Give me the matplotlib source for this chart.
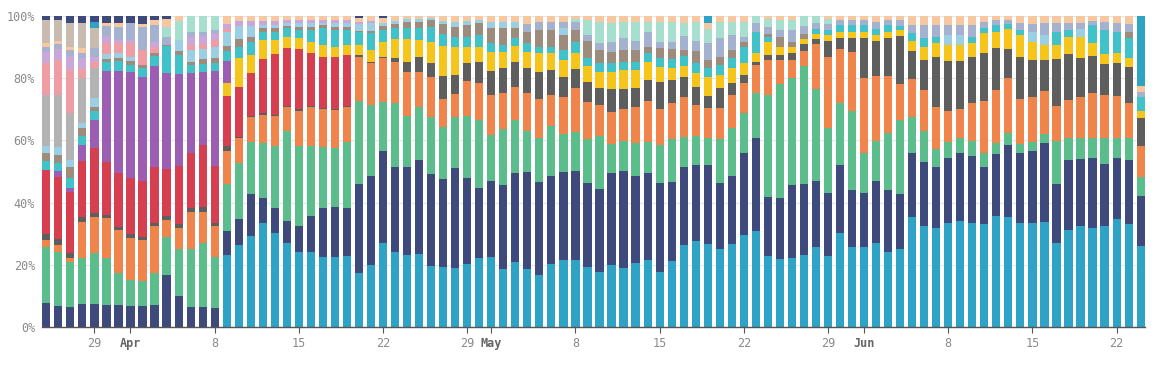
#
# 100% stacked daily bars, share per group (Mar 25 - Jun 24)
#

import numpy as np
import pandas as pd
from matplotlib import pyplot as plt

#
# Data (percent per day, bottom to top)
#

days = pd.date_range("2021-03-25", periods=92, freq="D")

cyan = [0] * 15 + [
	23.2, 26.4, 29.3, 33.3, 30.3, 27.1, 24, 24.2, 22.6, 22.6, 22.8, 17.5, 19.9, 27.1, 24,
	23.2, 23.5, 19.6, 19.1, 19.1, 20.3, 22.1, 22.6, 18.6, 20.8, 18.6, 16.7, 20.3, 21.5, 21.5,
	19.4, 17.8, 19.9, 18.9, 20.7, 21.5, 17.8, 21.3, 26.4, 27.8, 26.7, 25.1, 26.7, 29.6, 31,
	22.8, 21.8, 22.1, 23.2, 25.6, 22.8, 30.3, 25.6, 25.6, 27.1, 24.2, 24.8, 35.3, 32.5, 31.7,
	33.3, 34.2, 33.3, 33.1, 35.7, 35.5, 33.5, 33.3, 33.9, 26.9, 31.2, 32.5, 31.7, 32.5, 34.6,
	33, 26]

navy = [
	7.6, 6.9, 6.5, 7.4, 7.4, 7.1, 7.1, 6.8, 6.5, 7.1, 16.9, 10, 6.3, 6.5, 6,
	7.8, 8.2, 13.4, 8.3, 8.1, 7, 8.5, 11.5, 15.8, 15.9, 15.4, 29.2, 29, 29.6, 27.3,
	28.1, 30.2, 29.6, 28.4, 31.9, 27.5, 22.5, 24.4, 27.1, 28.8, 31.3, 30, 28.4, 28.4, 28.8,
	26.8, 26.5, 29.5, 31.4, 27.9, 27.9, 28.6, 25.4, 25.4, 24.3, 25.6, 21.3, 22, 26.2, 29.7,
	18.9, 19.6, 23.6, 22.8, 21.1, 20.2, 21.8, 18.4, 17.6, 19.9, 19.8, 17.6, 20.8, 20.7, 19.9,
	20.9, 21.9, 21.7, 18.2, 19.9, 23, 22.3, 23.4, 25.4, 19.1, 22.5, 21.5, 22.7, 19.9, 19.8,
	20.7, 16.1]

green = [
	18, 17.3, 14.3, 14.7, 16.3, 15.3, 10.4, 8.5, 8.1, 10.2, 12.4, 15, 18.7, 20.4, 16.6,
	15.2, 18.2, 16.9, 17.7, 19.8, 29, 25.7, 22.5, 19.4, 18.9, 21.4, 26.8, 22.7, 15.8, 20.8,
	16.5, 17.1, 18.2, 16.7, 16.4, 20, 22, 14.7, 17.9, 17, 13.2, 14, 15.9, 12.2, 12.5,
	14.1, 17.1, 9.6, 9.6, 10.7, 10.2, 12.1, 13.6, 9.6, 9.3, 8.7, 13.9, 15.2, 12.9, 14.4,
	32.9, 36.7, 34.3, 37.9, 29.5, 21.2, 20, 25.6, 12.8, 12.9, 18.5, 23.6, 11.5, 9.9, 5.5,
	5.4, 4.8, 4.8, 4.5, 3.7, 3.8, 3, 2.9, 2.8, 13.9, 7, 6.7, 6.3, 8.3, 6.3,
	7, 6]

orange = [
	2.4, 2.2, 1.3, 11.8, 11.8, 13.1, 13.7, 13.4, 13.1, 15, 5.6, 6.7, 12.1, 10.2, 9.9,
	10.7, 7.9, 7.8, 8.9, 9.6, 7.5, 11.4, 12.6, 12.2, 12.4, 11.2, 14.5, 13.7, 13.9, 13.2,
	14.3, 11.3, 13.1, 9, 7.5, 11.4, 11.7, 12.9, 11.5, 10.5, 12, 12.5, 10, 11.7, 13.9,
	12.2, 10, 10.2, 10.1, 11.5, 13.2, 11.5, 11.8, 12.9, 10, 9.6, 10, 10.7, 9.9, 9.1,
	11.3, 7.8, 5.9, 4.6, 14.5, 22.7, 17.2, 18.9, 24, 20.8, 18.2, 11.5, 12, 13.1, 13.5,
	10, 9.1, 12.3, 17, 16.9, 17.7, 14.4, 14.5, 13.8, 11.2, 12.3, 13.1, 14.4, 13.9, 13.6,
	11.4, 10.1]

dark_gray = [
	1.9, 1.8, 1.8, 1.6, 1.3, 0.8, 1.1, 1.4, 0.8, 1, 1.3, 1.4, 1.1, 1.4, 1,
	1.6, 0.5, 0.4, 0.5, 0.4, 0.4, 0.4, 0.4, 0.4, 0.4, 0.4, 0.5, 0.3, 0.5, 1.1,
	3.2, 4.8, 4.5, 7.3, 6.1, 5.6, 7, 7.8, 8.1, 8.2, 8.1, 8.9, 8, 6.7, 6.2,
	6.3, 5.3, 7.2, 6.4, 5.9, 6.6, 8.8, 7.3, 6.4, 5.7, 3.7, 6.4, 3.7, 2.4, 1.1,
	1.6, 1.6, 2.1, 2.2, 1.6, 5.1, 3.5, 4.3, 12.8, 11.3, 12.1, 15.3, 9.3, 9.7, 16.3,
	16, 15.6, 14.8, 15.2, 13.4, 9.3, 13.7, 11.8, 10, 15, 14.8, 12.8, 12, 9.9, 10.7,
	11.6, 8.9]

red = [
	20.4, 20.1, 19.6, 18, 20.6, 17.4, 17.4, 18.2, 17.9, 17.7, 15, 18.8, 17.8, 20, 18.1,
	16.1, 15.9, 13.8, 17.4, 19.5, 18.6, 19.3, 16.8, 16.5, 16.7, 16.3] + [0] * 66

yellow = [0] * 15 + [
	4, 9.4, 5.9, 6.2, 4.6, 3.8, 3.5, 3.7, 3.8, 3.2, 3.2, 3.2, 4, 4.8, 6.1,
	7.2, 5.4, 6.7, 9.6, 9.1, 5.3, 4.8, 6.1, 5.3, 5.1, 5.3, 5.9, 5.4, 5.5, 5.3,
	5.1, 5.4, 5.7, 6.2, 5.9, 5.9, 4.9, 4, 3.5, 4.5, 6.2, 4.3, 4.9, 3.8, 2.7,
	4.2, 2.6, 2.1, 1.6, 1.6, 1.9, 2.2, 2.2, 2.2, 1.8, 2.2, 1.8, 3.2, 4.2, 4.3,
	5.1, 5.1, 4.3, 6.4, 5.4, 6.4, 6.9, 5.7, 4.8, 4.6, 5.3, 6.5, 4.3, 3.4, 3.2,
	2.7, 2.2]

purple = [0, 1.7, 1.1, 5, 9.2, 29.5, 32.9, 34, 33, 32.2, 31.4, 29.5, 25.6, 23.6, 30.5,
	7.3] + [0] * 76

turquoise = [
	2.9, 2.8, 3.2, 2.9, 2.7, 2.7, 3.3, 2.5, 2.7, 3.2, 8.6, 6.1, 2.6, 2.7, 2.7,
	3.2, 3.4, 4.2, 2.7, 2.7, 2.7, 2.7, 3.8, 5.3, 5.4, 4.8, 4.3, 5.4, 3.8, 3.5,
	3.5, 3.8, 4.8, 3.8, 3.2, 3.2, 3.8, 2.7, 2.2, 2.5, 2.7, 2.1, 2.1, 3.2, 3.5,
	2.5, 2.7, 2.7, 2.7, 2.7, 2.7, 2.7, 2.9, 3.2, 3.2, 3, 3.2, 3.2, 5.3, 7,
	1.5, 0, 0, 0, 1.6, 1.6, 2.1, 2.1, 2.1, 2.1, 2.1, 1.4, 2.3, 2.7, 2.1,
	0, 0, 2.1, 1.6, 2.1, 1.6, 1.8, 0, 0, 4.3, 2.4, 0, 5.6, 7.6, 6.8,
	6.4, 4.7]

taupe = [
	2.7, 2.5, 3.8, 2.5, 1.5, 1.1, 1.1, 1.1, 1.1, 1.1, 0.5, 1.1, 1.1, 1.6, 1.6,
	1.6, 2.6, 1.5, 1, 1, 0.8, 1, 1, 1, 1, 1, 0.5, 0.5, 1.2, 1.5,
	2.1, 2.1, 2.1, 3.2, 3.2, 3.8, 3.8, 4.8, 5.3, 3.2, 3.8, 5.4, 5.4, 4.8, 3.8,
	5.4, 4.3, 3.7, 3.8, 3.8, 2.1, 3.2, 3.2, 2.1, 3.8, 2.5, 2.7, 2.7, 1.5, 0,
	1, 3.2, 1.6, 1.6] + [0] * 26 + [2.1, 0]

light_blue = [
	2.1, 2.7, 2.1, 1.8, 2.7, 1.6, 1.5, 1.5, 0, 0, 0, 3.7, 3.8, 3.2, 3.7,
	4.3, 4.2, 3.7, 1.1, 1.1, 0.8, 1.1, 1.1, 0.8, 1.1, 1.1, 2.1, 2.7, 1, 1,
	0.8, 0.8, 0.7, 1, 1.5, 1.2, 1, 2.1, 2.1, 2.1, 0, 0, 0, 2] + [0] * 31 + [
	3.2, 3.2, 0, 0, 0, 0, 0, 3.2, 3.2, 0, 0, 2.7, 0, 0, 0, 0, 0]

light_gray = [16.6, 16.7, 15.1, 14.5, 9.7] + [0] * 87

pink = [10.2, 11.2, 13.9, 2.6, 2.1, 3.7, 3.2, 4.3, 4.5, 2, 0, 0, 1.5, 1.5, 2, 1] + [0] * 76

lavender = [
	3.4, 3.5, 4.3, 3.8, 1.6, 2.1, 1, 1, 0, 1.6, 0, 0, 2.7, 2.7, 2.3,
	1.6, 1.7, 1.5, 1.4, 1.4, 1.1, 1.1, 1.1, 1, 1.1, 1.1, 0.7, 0.8] + [0] * 64

slate = [
	1.9, 1.6, 2.1, 1.6, 2.7, 3.2, 4.3, 5.4, 7.5, 5.4, 2.7, 0, 1.6, 1.4, 1] + [0] * 25 + [
	2.5, 2.5, 2.5, 2, 2.5, 2, 2.1, 3.2, 3.7, 2.7, 4.8, 2.1, 2.1, 4.3, 3.2,
	5.4, 5.9, 4.8, 1.7, 2.7, 2.2, 2.1, 3.8, 2.7, 2.1, 2.1, 1.5, 1.5, 1.5, 2.1,
	1.5, 2, 2.7, 4.3, 3.8, 3.2, 3.2, 3.8, 2.1, 1.5, 1.5, 2.2, 2.7, 3.7, 2.7,
	2.1, 2, 1.5, 2.5, 2.7, 2.5, 1.6]

mint = [0] * 10 + [3, 6.1, 5.1, 5, 4.5] + [0] * 29 + [
	1, 5, 7, 5.9, 5.4, 6.4, 3.2, 6.4, 6.4, 4.3, 6.4, 4.5, 5.4, 4.3, 4.8,
	2.3, 2.6, 3.2, 3.2, 3.2, 2.1, 1.5] + [0] * 26

peach = [
	1, 1, 1, 1.4, 0, 1, 1, 0, 1, 1.5, 2.7, 1.6, 0, 0, 0,
	2.7, 1.6, 1.6, 1.5, 1.5, 1.2, 1.3, 1.3, 1.2, 1.3, 1.3, 1.5, 1.5, 1.5, 1.5,
	1.1, 1, 0.7, 1.7, 2, 1.7, 1.3, 1.9, 1.9, 1.8, 2.5, 2, 2, 2, 1,
	1.2, 1.8, 2.4, 1.8, 1.8, 1.9, 1.9, 2, 2.3, 1.8, 2, 1.8, 1.8, 1.9, 0,
	1, 1.4, 1.3, 0, 0, 1, 1.4, 1.4, 1.4, 2, 1.4, 1.2, 2.9, 2.9, 2.9,
	2.9, 2.9, 2.9, 1.9, 1.4, 1.2, 2.2, 2.5, 2.4, 2.3, 2.4, 2.2, 1.5, 2, 2.3,
	2.6, 1.9]

beige = [7.5, 6.7, 7.5, 8, 6.4] + [0] * 87

top_cyan = [0] * 92
top_cyan[4] = 2.2
top_cyan[55] = 2.3
top_cyan[91] = 22.5

top_navy = [1.3, 1.3, 2.4, 2.4, 1.8, 2.4, 2.4, 2.4, 2.4, 1.3, 1] + [0] * 15 + [
	0.5, 0, 0.8] + [0] * 63

#
# Stack order and colours
#

series = [
	(cyan, "#2ea3c5"),
	(navy, "#3e4a7c"),
	(green, "#5bbd8b"),
	(orange, "#f0854b"),
	(dark_gray, "#5e5e5e"),
	(red, "#d63f50"),
	(yellow, "#f6c51c"),
	(purple, "#9b5eb3"),
	(turquoise, "#40c2c8"),
	(taupe, "#9d8c7c"),
	(light_blue, "#9bcfe3"),
	(light_gray, "#b3b3b3"),
	(pink, "#ef9da4"),
	(lavender, "#c9a7da"),
	(slate, "#a4b2cf"),
	(mint, "#a7dfcf"),
	(peach, "#f7c89f"),
	(beige, "#c8bcb0"),
	(top_cyan, "#2ea3c5"),
	(top_navy, "#3e4a7c"),
]

values = np.array([s for s, c in series], dtype=float)
shares = values / values.sum(axis=0) * 100

#
# Plotting
#

fig = plt.figure(figsize=(11.63, 3.66), dpi=100)
ax = fig.add_axes([0.0361, 0.1066, 0.9484, 0.8497])

x = np.arange(len(days))
bottom = np.zeros(len(days))
for row, (s, color) in zip(shares, series):
	ax.bar(x, row, bottom=bottom, width=0.68, color=color, linewidth=0, zorder=2)
	bottom += row

ax.set_xlim(-0.36, len(days) - 0.64)
ax.set_ylim(0, 100)

# y axis: percent labels and faint grid
ax.set_yticks([0, 20, 40, 60, 80, 100])
ax.set_yticklabels(["0%", "20%", "40%", "60%", "80%", "100%"])
ax.yaxis.grid(True, color="#e6e6e6", linewidth=0.8, zorder=0)
ax.tick_params(axis="y", length=0, pad=5, labelsize=8.5, labelcolor="#8a8a8a")

# x axis: weekly day numbers, month name on the 1st
tick_pos = [i for i, d in enumerate(days) if d.day in (1, 8, 15, 22, 29)]
tick_lab = [days[i].strftime("%b") if days[i].day == 1 else str(days[i].day) for i in tick_pos]
ax.set_xticks(tick_pos)
ax.set_xticklabels(tick_lab)
ax.tick_params(axis="x", length=4, width=0.8, color="#555555", pad=3,
	labelsize=8.5, labelcolor="#8a8a8a")
for lab in ax.get_xticklabels():
	if not lab.get_text().isdigit():
		lab.set_color("#666666")
		lab.set_fontweight("bold")

for lab in ax.get_xticklabels() + ax.get_yticklabels():
	lab.set_family("DejaVu Sans Mono")

for side in ["top", "right", "left"]:
	ax.spines[side].set_visible(False)
ax.spines["bottom"].set_color("#555555")
ax.spines["bottom"].set_linewidth(1)
ax.spines["bottom"].set_zorder(3)

plt.savefig("out.png", dpi=100)
